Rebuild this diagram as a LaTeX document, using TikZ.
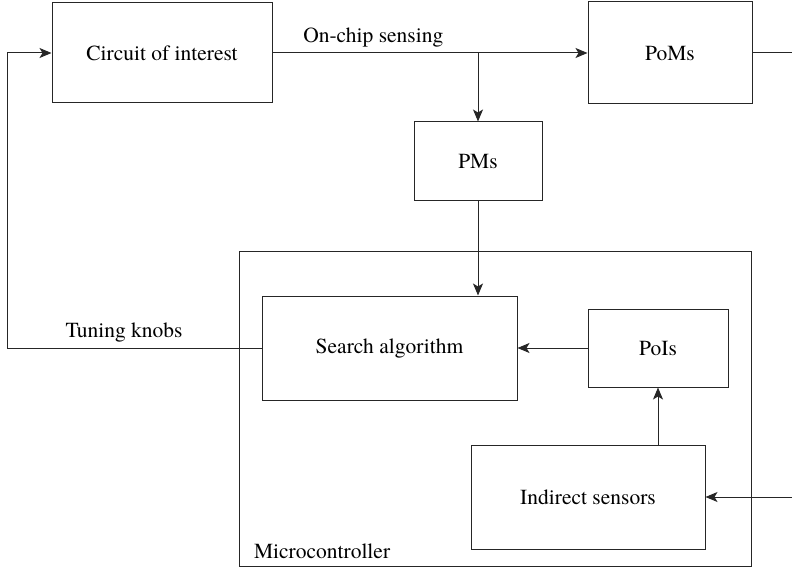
\documentclass[tikz,border=0pt]{standalone}
\usepackage{fontspec}
\setmainfont{TeX Gyre Termes}
\usetikzlibrary{arrows.meta,positioning}

\begin{document}
\begin{tikzpicture}[
  x=1pt, y=1pt,
  every node/.style={font=\fontsize{21.5}{25}\selectfont},
  block/.style={rectangle, draw=black!85, line width=1pt, inner sep=0pt},
  arr/.style={-{Stealth[length=12pt, width=10pt, inset=3pt]}, draw=black!85, line width=1pt},
  ln/.style={draw=black!85, line width=1pt}
]
\useasboundingbox (0,0) rectangle (792,-567);

%% ---- outer loop ----
\node[block, minimum width=220, minimum height=100] (coi)   at (162,-53)  {Circuit of interest};
\node[block, minimum width=164, minimum height=102] (poms)  at (670,-53)  {PoMs};
\node[block, minimum width=128, minimum height=78]  (pms)   at (478,-161) {PMs};

%% ---- microcontroller ----
\node[block, minimum width=512, minimum height=315] (mcu)   at (495,-408.5) {};
\node[anchor=south west] (mculbl) at ([xshift=12pt, yshift=4pt]mcu.south west) {Microcontroller};

\node[block, minimum width=255, minimum height=104] (search)  at (389.5,-348) {Search algorithm};
\node[block, minimum width=140, minimum height=78]  (pois)    at (658,-348)   {PoIs};
\node[block, minimum width=234, minimum height=104] (sensors) at (588,-497)   {Indirect sensors};

\coordinate (split) at (478,-53);
\coordinate (pomsout) at (792,-53);
\coordinate (sensin)  at (792,-497);
\coordinate (knob)    at (7,-348);

%% ---- connectors ----
\draw[arr] (coi.east) -- node[above=2pt, pos=0.32] (sensing) {On-chip sensing} (poms.west);
\draw[arr] (split) -- (pms.north);
\draw[ln]  (poms.east) -- (pomsout);
\draw[arr] (pms.south) -- (search.north -| pms.south);
\draw[arr] (pois.west) -- (search.east);
\draw[arr] (sensors.north -| pois.south) -- (pois.south);
\draw[arr] (sensin) -- (sensors.east);
\draw[arr] (search.west) -- node[above=2pt, pos=0.54] (tuning) {Tuning knobs} (knob) |- (coi.west);

\end{tikzpicture}
\end{document}
